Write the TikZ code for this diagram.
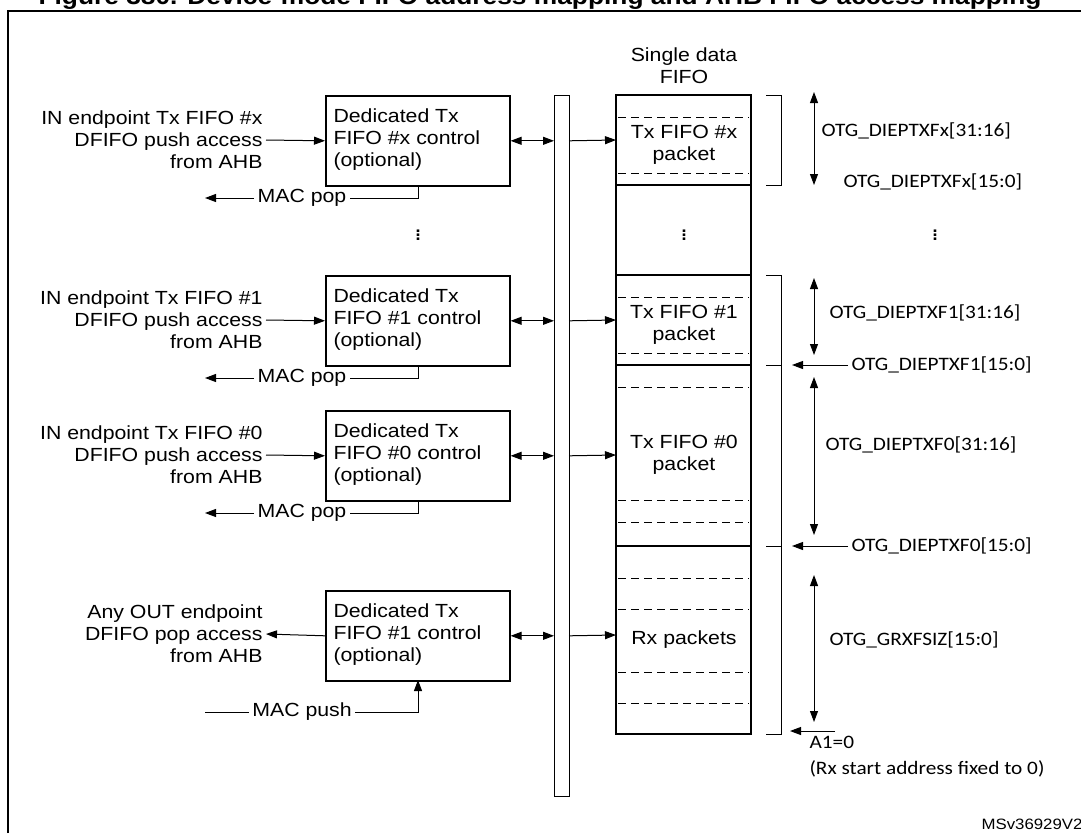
\documentclass[tikz,border=0pt]{standalone}
\usepackage{fontspec}
\setmainfont{Liberation Sans}[FakeStretch=1.12]
\newfontfamily\calfont{Carlito}[FakeStretch=1.12]
\usetikzlibrary{arrows.meta}
\begin{document}
\begin{tikzpicture}[x=1pt,y=-1pt,
  every node/.style={font=\fontsize{19}{22}\selectfont},
  ln/.style={line width=1pt},
  ar/.style={ln,-{Triangle[length=11pt,width=8pt]}},
  dar/.style={ln,{Triangle[length=11pt,width=8pt]}-{Triangle[length=11pt,width=8pt]}},
  box/.style={draw,line width=1.6pt,minimum width=184pt,minimum height=90pt,anchor=north west,inner sep=0pt},
  dsh/.style={line width=1pt,dash pattern=on 8pt off 5pt},
  lab/.style={font=\calfont\fontsize{19}{22}\selectfont,anchor=west},
  ltx/.style={align=right,anchor=east,font=\fontsize{19}{22}\selectfont},
  vd/.style={font=\fontsize{24}{24}\selectfont}]
\useasboundingbox (0,0) rectangle (1081,833);
\node[font=\bfseries\fontsize{23.5}{26}\selectfont] (title) at (540,-2) {Figure 380. Device-mode FIFO address mapping and AHB FIFO access mapping};
\draw[line width=2pt] (8,833) -- (8,11) -- (1085,11);
\node[anchor=east,font=\fontsize{15}{16}\selectfont] (ms) at (1086,824) {MSv36929V2};
% bus
\draw[line width=1pt] (554,95) rectangle (569,796);
\coordinate (busL) at (554,0); \coordinate (busR) at (569,0);
% FIFO column
\node[align=center] (sdf) at (684,66) {Single data\\FIFO};
\draw[line width=2pt] (616,95) rectangle (751,734);
\foreach \y in {185,275,365,546} \draw[line width=2.2pt] (616,\y) -- (751,\y);
\foreach \y in {117,173,297,353,387,500,522,578,609,672,703} \draw[dsh] (618,\y) -- (749,\y);
\node[align=center] (f1) at (684,145) {Tx FIFO \#x\\packet};
\node[vd] (fd) at (684,232) {$\vdots$};
\node[align=center] (f2) at (684,325) {Tx FIFO \#1\\packet};
\node[align=center] (f3) at (684,455) {Tx FIFO \#0\\packet};
\node (f4) at (684,640) {Rx packets};
% brackets
\draw[ln] (766,95) -- (781,95) -- (781,185) -- (766,185);
\draw[ln] (766,275) -- (781,275) -- (781,734) -- (766,734);
\draw[ln] (766,365) -- (781,365); \draw[ln] (766,546) -- (781,546);
% address arrows
\draw[dar] (814,92) -- (814,185);
\draw[dar] (814,278) -- (814,355);
\draw[dar] (814,377) -- (814,535);
\draw[dar] (814,575) -- (814,722);
\node[lab] (a1) at (818,131) {OTG\_DIEPTXFx[31:16]};
\node[lab] (a2) at (840,182) {OTG\_DIEPTXFx[15:0]};
\node[vd] (ad) at (935,232) {$\vdots$};
\node[lab] (a3) at (826,313) {OTG\_DIEPTXF1[31:16]};
\node[lab] (a4) at (848,365) {OTG\_DIEPTXF1[15:0]};
\coordinate (p4) at (792,365);
\draw[ar] (a4.west) -- (p4);
\node[lab] (a5) at (822,445) {OTG\_DIEPTXF0[31:16]};
\node[lab] (a6) at (848,546) {OTG\_DIEPTXF0[15:0]};
\coordinate (p6) at (792,546);
\draw[ar] (a6.west) -- (p6);
\node[lab] (a7) at (826,640) {OTG\_GRXFSIZ[15:0]};
\coordinate (a8s) at (835,731); \coordinate (a8e) at (790,731);
\draw[ar] (a8s) -- (a8e);
\node[lab,align=left,anchor=north west,font=\calfont\fontsize{19}{26}\selectfont] (a8) at (806,733) {A1=0\\(Rx start address fixed to 0)};
% control boxes
\foreach \n/\y/\t in {b1/95/x,b2/275/1,b3/410/0,b4/590/1}{
  \node[box] (\n) at (325,\y) {};
  \node[anchor=west,align=left] at (330,\y+45) {Dedicated Tx\\FIFO \#\t\ control\\(optional)};
}
\foreach \n/\y/\t in {b1/95/x,b2/275/1,b3/410/0}{
  \node[ltx] (in\n) at (266,\y+45) {IN endpoint Tx FIFO \#\t\\DFIFO push access\\from AHB};
  \draw[ar] (in\n.east) -- (\n.west);
  \draw[dar] (\n.east) -- (busL |- \n.east);
  \draw[ar] (busR |- \n.east) -- (616,\y+45);
  \node (mac\n) at (302,\y+103) {MAC pop};
  \coordinate (m\n) at (205,\y+103);
  \coordinate (c\n) at (418,\y+90);
  \draw[ln] (c\n) |- (mac\n.east);
  \draw[ar] (mac\n.west) -- (m\n);
}
\node[ltx] (inb4) at (266,634) {Any OUT endpoint\\DFIFO pop access\\from AHB};
\draw[ar] (b4.west) -- (inb4.east);
\draw[dar] (b4.east) -- (busL |- b4.east);
\draw[ar] (busR |- b4.east) -- (616,635);
\node (macb4) at (302,712) {MAC push};
\coordinate (mb4) at (205,712);
\coordinate (cb4) at (418,680);
\draw[ln] (mb4) -- (macb4.west);
\draw[ar] (macb4.east) -| (cb4);
\node[vd] (d1) at (418,232) {$\vdots$};
\end{tikzpicture}
\end{document}
